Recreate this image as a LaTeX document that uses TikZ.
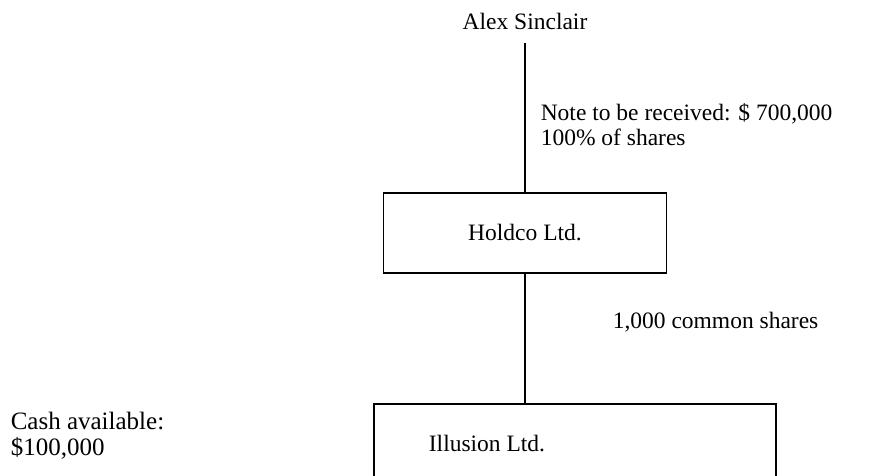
\documentclass[tikz,border=0pt]{standalone}
\usepackage{fontspec}
\setmainfont{Liberation Serif}
\usepackage{tikz}
\usetikzlibrary{positioning,calc}

\begin{document}
\begin{tikzpicture}[x=1pt,y=-1pt, font=\fontsize{23.5}{25}\selectfont, line width=1.5pt]
  \tikzset{firm/.style={draw=black,inner sep=0pt,align=center},
           note/.style={anchor=west,inner sep=0pt,align=left}}
  \useasboundingbox (0,0) rectangle (878,476);
  \node[anchor=base,inner ysep=12pt] (owner) at (525,30) {Alex Sinclair};
  \node[firm,minimum width=283,minimum height=80] (holdco) at (525,233) {Holdco Ltd.};
  \node[firm,minimum width=402,minimum height=90,anchor=north west] (illusion) at (373,403) {};
  \node[inner sep=0pt] (illusiontxt) at (487,444) {Illusion Ltd.};
  \node[note] (notercv) at (540,124.5) {Note to be received: \$ 700,000\\100\% of shares};
  \node[note] (common) at (612,322) {1,000 common shares};
  \node[note,font=\fontsize{25}{25.5}\selectfont] (cash) at (10,435.5) {Cash available:\\\$100,000};
  \draw (owner.south) -- (holdco.north);
  \draw (holdco.south) -- (holdco.south |- illusion.north);
\end{tikzpicture}
\end{document}
